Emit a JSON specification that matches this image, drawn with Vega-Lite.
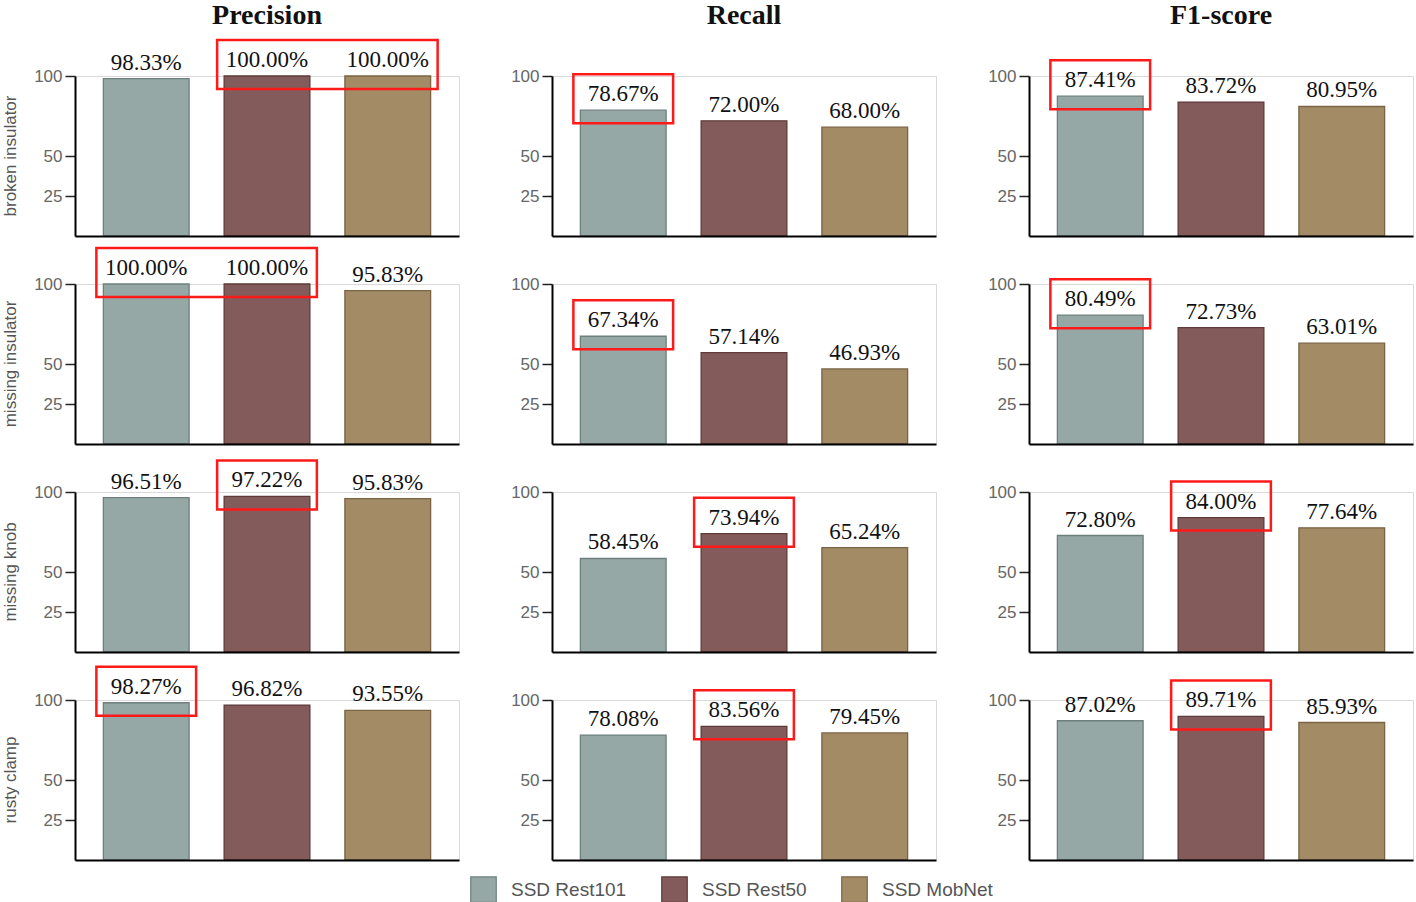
{
  "$schema": "https://vega.github.io/schema/vega-lite/v6.json",
  "padding": {"left": 2, "top": 2, "right": 5, "bottom": 3},
  "bounds": "flush",
  "background": "white",
  "data": {
    "values": [
      {"kind": "bar", "defect": "broken insulator", "metric": "Precision", "model": "SSD Rest101", "value": 98.33},
      {"kind": "bar", "defect": "broken insulator", "metric": "Precision", "model": "SSD Rest50", "value": 100.00},
      {"kind": "bar", "defect": "broken insulator", "metric": "Precision", "model": "SSD MobNet", "value": 100.00},
      {"kind": "bar", "defect": "broken insulator", "metric": "Recall", "model": "SSD Rest101", "value": 78.67},
      {"kind": "bar", "defect": "broken insulator", "metric": "Recall", "model": "SSD Rest50", "value": 72.00},
      {"kind": "bar", "defect": "broken insulator", "metric": "Recall", "model": "SSD MobNet", "value": 68.00},
      {"kind": "bar", "defect": "broken insulator", "metric": "F1-score", "model": "SSD Rest101", "value": 87.41},
      {"kind": "bar", "defect": "broken insulator", "metric": "F1-score", "model": "SSD Rest50", "value": 83.72},
      {"kind": "bar", "defect": "broken insulator", "metric": "F1-score", "model": "SSD MobNet", "value": 80.95},
      {"kind": "bar", "defect": "missing insulator", "metric": "Precision", "model": "SSD Rest101", "value": 100.00},
      {"kind": "bar", "defect": "missing insulator", "metric": "Precision", "model": "SSD Rest50", "value": 100.00},
      {"kind": "bar", "defect": "missing insulator", "metric": "Precision", "model": "SSD MobNet", "value": 95.83},
      {"kind": "bar", "defect": "missing insulator", "metric": "Recall", "model": "SSD Rest101", "value": 67.34},
      {"kind": "bar", "defect": "missing insulator", "metric": "Recall", "model": "SSD Rest50", "value": 57.14},
      {"kind": "bar", "defect": "missing insulator", "metric": "Recall", "model": "SSD MobNet", "value": 46.93},
      {"kind": "bar", "defect": "missing insulator", "metric": "F1-score", "model": "SSD Rest101", "value": 80.49},
      {"kind": "bar", "defect": "missing insulator", "metric": "F1-score", "model": "SSD Rest50", "value": 72.73},
      {"kind": "bar", "defect": "missing insulator", "metric": "F1-score", "model": "SSD MobNet", "value": 63.01},
      {"kind": "bar", "defect": "missing knob", "metric": "Precision", "model": "SSD Rest101", "value": 96.51},
      {"kind": "bar", "defect": "missing knob", "metric": "Precision", "model": "SSD Rest50", "value": 97.22},
      {"kind": "bar", "defect": "missing knob", "metric": "Precision", "model": "SSD MobNet", "value": 95.83},
      {"kind": "bar", "defect": "missing knob", "metric": "Recall", "model": "SSD Rest101", "value": 58.45},
      {"kind": "bar", "defect": "missing knob", "metric": "Recall", "model": "SSD Rest50", "value": 73.94},
      {"kind": "bar", "defect": "missing knob", "metric": "Recall", "model": "SSD MobNet", "value": 65.24},
      {"kind": "bar", "defect": "missing knob", "metric": "F1-score", "model": "SSD Rest101", "value": 72.80},
      {"kind": "bar", "defect": "missing knob", "metric": "F1-score", "model": "SSD Rest50", "value": 84.00},
      {"kind": "bar", "defect": "missing knob", "metric": "F1-score", "model": "SSD MobNet", "value": 77.64},
      {"kind": "bar", "defect": "rusty clamp", "metric": "Precision", "model": "SSD Rest101", "value": 98.27},
      {"kind": "bar", "defect": "rusty clamp", "metric": "Precision", "model": "SSD Rest50", "value": 96.82},
      {"kind": "bar", "defect": "rusty clamp", "metric": "Precision", "model": "SSD MobNet", "value": 93.55},
      {"kind": "bar", "defect": "rusty clamp", "metric": "Recall", "model": "SSD Rest101", "value": 78.08},
      {"kind": "bar", "defect": "rusty clamp", "metric": "Recall", "model": "SSD Rest50", "value": 83.56},
      {"kind": "bar", "defect": "rusty clamp", "metric": "Recall", "model": "SSD MobNet", "value": 79.45},
      {"kind": "bar", "defect": "rusty clamp", "metric": "F1-score", "model": "SSD Rest101", "value": 87.02},
      {"kind": "bar", "defect": "rusty clamp", "metric": "F1-score", "model": "SSD Rest50", "value": 89.71},
      {"kind": "bar", "defect": "rusty clamp", "metric": "F1-score", "model": "SSD MobNet", "value": 85.93},
      {"kind": "box", "defect": "broken insulator", "metric": "Precision", "model": "SSD Rest50", "to": "SSD MobNet", "value": 100.00},
      {"kind": "box", "defect": "broken insulator", "metric": "Recall", "model": "SSD Rest101", "to": "SSD Rest101", "value": 78.67},
      {"kind": "box", "defect": "broken insulator", "metric": "F1-score", "model": "SSD Rest101", "to": "SSD Rest101", "value": 87.41},
      {"kind": "box", "defect": "missing insulator", "metric": "Precision", "model": "SSD Rest101", "to": "SSD Rest50", "value": 100.00},
      {"kind": "box", "defect": "missing insulator", "metric": "Recall", "model": "SSD Rest101", "to": "SSD Rest101", "value": 67.34},
      {"kind": "box", "defect": "missing insulator", "metric": "F1-score", "model": "SSD Rest101", "to": "SSD Rest101", "value": 80.49},
      {"kind": "box", "defect": "missing knob", "metric": "Precision", "model": "SSD Rest50", "to": "SSD Rest50", "value": 97.22},
      {"kind": "box", "defect": "missing knob", "metric": "Recall", "model": "SSD Rest50", "to": "SSD Rest50", "value": 73.94},
      {"kind": "box", "defect": "missing knob", "metric": "F1-score", "model": "SSD Rest50", "to": "SSD Rest50", "value": 84.00},
      {"kind": "box", "defect": "rusty clamp", "metric": "Precision", "model": "SSD Rest101", "to": "SSD Rest101", "value": 98.27},
      {"kind": "box", "defect": "rusty clamp", "metric": "Recall", "model": "SSD Rest50", "to": "SSD Rest50", "value": 83.56},
      {"kind": "box", "defect": "rusty clamp", "metric": "F1-score", "model": "SSD Rest50", "to": "SSD Rest50", "value": 89.71}
    ]
  },
  "facet": {
    "row": {
      "field": "defect", "type": "nominal",
      "sort": ["broken insulator", "missing insulator", "missing knob", "rusty clamp"],
      "header": {"title": null, "labelAngle": -90, "labelFont": "Liberation Sans", "labelFontSize": 17, "labelColor": "#555555", "labelPadding": 47}
    },
    "column": {
      "field": "metric", "type": "nominal",
      "sort": ["Precision", "Recall", "F1-score"],
      "header": {"title": null, "labelFont": "Liberation Serif", "labelFontSize": 28, "labelFontWeight": "bold", "labelColor": "#111111", "labelPadding": 46}
    }
  },
  "spacing": {"row": 48, "column": 93},
  "resolve": {"axis": {"y": "independent", "x": "independent"}},
  "spec": {
    "width": 384,
    "height": 160,
    "layer": [
      {
        "transform": [{"filter": "datum.kind == 'bar'"}],
        "mark": {"type": "bar", "strokeWidth": 1.3},
        "encoding": {
          "x": {
            "field": "model", "type": "nominal",
            "sort": ["SSD Rest101", "SSD Rest50", "SSD MobNet"],
            "scale": {"paddingInner": 0.29, "paddingOuter": 0.235},
            "axis": {"title": null, "labels": false, "ticks": false, "domainColor": "#000000", "domainWidth": 2, "zindex": 1}
          },
          "y": {
            "field": "value", "type": "quantitative",
            "scale": {"domain": [0, 100]},
            "axis": {"title": null, "values": [25, 50, 100], "grid": false, "domainColor": "#000000", "domainWidth": 2, "tickColor": "#222222", "tickSize": 10, "tickWidth": 1.5, "labelColor": "#666666", "labelFont": "Liberation Sans", "labelFontSize": 17, "labelPadding": 3, "zindex": 1}
          },
          "fill": {
            "field": "model", "type": "nominal",
            "sort": ["SSD Rest101", "SSD Rest50", "SSD MobNet"],
            "scale": {"domain": ["SSD Rest101", "SSD Rest50", "SSD MobNet"], "range": ["#95a8a6", "#845b5b", "#a38b66"]},
            "legend": {"title": null, "orient": "none", "legendX": 395, "legendY": 800, "direction": "horizontal", "symbolType": "square", "symbolSize": 650, "symbolStrokeColor": "#666666", "symbolStrokeWidth": 1.2, "symbolOpacity": 1, "labelFont": "Liberation Sans", "labelFontSize": 19, "labelColor": "#555555", "labelOffset": 14, "columnPadding": 32}
          },
          "stroke": {
            "field": "model", "type": "nominal",
            "scale": {"domain": ["SSD Rest101", "SSD Rest50", "SSD MobNet"], "range": ["#6e807e", "#5e3a3a", "#7a6443"]},
            "legend": null
          }
        }
      },
      {
        "transform": [{"filter": "datum.kind == 'bar'"}, {"calculate": "format(datum.value, '.2f') + '%'", "as": "label"}],
        "mark": {"type": "text", "dy": -4, "baseline": "bottom", "font": "Liberation Serif", "fontSize": 23, "color": "#111111"},
        "encoding": {
          "x": {"field": "model", "type": "nominal", "sort": ["SSD Rest101", "SSD Rest50", "SSD MobNet"]},
          "y": {"field": "value", "type": "quantitative"},
          "text": {"field": "label"}
        }
      },
      {
        "transform": [{"filter": "datum.kind == 'box'"}],
        "mark": {"type": "rect", "filled": false, "stroke": "#ff1a1a", "strokeWidth": 2.5, "xOffset": -7, "x2Offset": 7, "yOffset": 13, "y2Offset": -36},
        "encoding": {
          "x": {"field": "model", "type": "nominal", "sort": ["SSD Rest101", "SSD Rest50", "SSD MobNet"], "bandPosition": 0},
          "x2": {"field": "to", "bandPosition": 1},
          "y": {"field": "value", "type": "quantitative"},
          "y2": {"field": "value"}
        }
      }
    ]
  },
  "config": {
    "view": {"stroke": "#d9d9d9", "strokeWidth": 1}
  }
}
